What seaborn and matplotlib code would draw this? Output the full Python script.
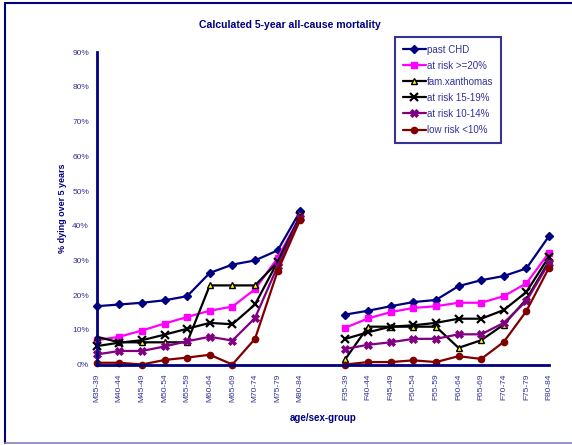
import numpy as np
import pandas as pd
import matplotlib

matplotlib.use('Agg')
import matplotlib.pyplot as plt
import seaborn as sns
from matplotlib.lines import Line2D
from matplotlib.ticker import FuncFormatter

sns.set_style('white')
plt.rcParams['font.family'] = ['Liberation Sans', 'DejaVu Sans']

# ---------------- data (% dying over 5 years) ----------------
groups_m = ['M35-39', 'M40-44', 'M45-49', 'M50-54', 'M55-59',
            'M60-64', 'M65-69', 'M70-74', 'M75-79', 'M80-84']
groups_f = ['F35-39', 'F40-44', 'F45-49', 'F50-54', 'F55-59',
            'F60-64', 'F65-69', 'F70-74', 'F75-79', 'F80-84']
categories = groups_m + [''] + groups_f

series_names = ['past CHD', 'at risk >=20%', 'fam.xanthomas',
                'at risk 15-19%', 'at risk 10-14%', 'low risk <10%']

past_chd_m = [16.8, 17.3, 17.8, 18.5, 19.7, 26.4, 28.8, 30.0, 32.9, 44.2]
past_chd_f = [14.4, 15.5, 16.8, 18.0, 18.6, 22.6, 24.3, 25.5, 27.7, 37.0]
risk20_m = [7.0, 8.0, 9.8, 11.8, 13.7, 15.5, 16.7, 21.7, 30.7, 42.8]
risk20_f = [10.6, 13.3, 15.1, 16.3, 16.8, 17.8, 17.8, 19.7, 23.4, 32.2]
xanth_m = [8.0, 6.4, 6.4, 6.4, 6.4, 22.8, 22.8, 22.8, 29.5, 42.5]
xanth_f = [1.6, 10.9, 10.9, 10.9, 10.9, 4.8, 7.0, 11.5, 18.8, 29.8]
risk15_m = [5.3, 6.3, 7.0, 8.6, 10.3, 12.0, 11.6, 17.3, 29.6, 42.8]
risk15_f = [7.4, 9.3, 10.9, 11.3, 12.0, 13.2, 13.2, 15.7, 20.9, 31.1]
risk10_m = [2.9, 3.9, 3.9, 5.2, 6.7, 8.0, 6.9, 13.4, 28.3, 42.3]
risk10_f = [4.5, 5.7, 6.4, 7.4, 7.4, 8.7, 8.7, 12.0, 18.3, 29.3]
low_m = [0.5, 0.5, 0.0, 1.3, 2.0, 2.8, 0.0, 7.4, 26.9, 41.8]
low_f = [0.0, 0.7, 0.7, 1.2, 0.7, 2.4, 1.6, 6.5, 15.4, 27.9]

values_m = [past_chd_m, risk20_m, xanth_m, risk15_m, risk10_m, low_m]
values_f = [past_chd_f, risk20_f, xanth_f, risk15_f, risk10_f, low_f]

# 样式
styles = {
    'past CHD':       dict(color='#000080', marker='D', mfc='#000080', mec='#000080', ms=4.5, mew=1),
    'at risk >=20%':  dict(color='#FF00FF', marker='s', mfc='#FF00FF', mec='#FF00FF', ms=4, mew=1),
    'fam.xanthomas':  dict(color='#000000', marker='^', mfc='#FFFF00', mec='#000000', ms=5, mew=1),
    'at risk 15-19%': dict(color='#000000', marker='x', mfc='#000000', mec='#000000', ms=6, mew=1.6),
    'at risk 10-14%': dict(color='#800080', marker='X', mfc='#800080', mec='#800080', ms=5.5, mew=0.6),
    'low risk <10%':  dict(color='#800000', marker='o', mfc='#800000', mec='#800000', ms=4.5, mew=1),
}

rows = []
for name, vm, vf in zip(series_names, values_m, values_f):
    for g, v in zip(groups_m, vm):
        rows.append((name, 'M', categories.index(g), v))
    for g, v in zip(groups_f, vf):
        rows.append((name, 'F', categories.index(g), v))
df = pd.DataFrame(rows, columns=['series', 'sex', 'pos', 'pct'])

navy = '#000080'
label_col = '#333399'

fig = plt.figure(figsize=(5.72, 4.45), dpi=100)
ax = fig.add_axes([96.7 / 572, 1 - 364.5 / 445, (549 - 96.7) / 572, (364.5 - 52.3) / 445])

for name in series_names:
    st = styles[name]
    for sex in ['M', 'F']:
        sub = df[(df['series'] == name) & (df['sex'] == sex)]
        sns.lineplot(data=sub, x='pos', y='pct', ax=ax, color=st['color'], lw=1.6,
                     marker=st['marker'], markerfacecolor=st['mfc'], markeredgecolor=st['mec'],
                     markersize=st['ms'], markeredgewidth=st['mew'], clip_on=False,
                     estimator=None, sort=False, legend=False, zorder=3)

ax.set_xlim(0, len(categories) - 1)
ax.set_ylim(0, 90)
ax.set_xticks(range(len(categories)))
ax.set_xticklabels(categories, rotation=90, fontsize=6, color=label_col)
ax.set_yticks(np.arange(0, 91, 10))
ax.yaxis.set_major_formatter(FuncFormatter(lambda v, p: f'{v:.0f}%'))
for t in ax.get_yticklabels():
    t.set_fontsize(6)
    t.set_color(label_col)

ax.tick_params(axis='both', direction='inout', length=5, width=1.5, color=navy)
ax.tick_params(axis='y', pad=3)
ax.tick_params(axis='x', pad=4)
for s in ['top', 'right']:
    ax.spines[s].set_visible(False)
for s in ['left', 'bottom']:
    ax.spines[s].set_color(navy)
    ax.spines[s].set_linewidth(2)
    ax.spines[s].set_zorder(4)
ax.grid(False)
ax.set_facecolor('white')

ax.set_xlabel('age/sex-group', fontsize=7, fontweight='bold', color=navy)
ax.set_ylabel('% dying over 5 years', fontsize=6.5, fontweight='bold', color=navy)
ax.xaxis.set_label_coords(0.5, -0.155)
ax.yaxis.set_label_coords(-0.066, 0.5)

fig.text(290 / 572, 1 - 25.5 / 445, 'Calculated 5-year all-cause mortality',
         ha='center', va='center', fontsize=7.6, fontweight='bold', color=navy)

# 图例
handles = []
for name in series_names:
    st = styles[name]
    handles.append(Line2D([0], [0], color=st['color'], lw=1.6, marker=st['marker'],
                          markerfacecolor=st['mfc'], markeredgecolor=st['mec'],
                          markersize=st['ms'], markeredgewidth=st['mew']))
leg = fig.legend(handles, series_names, loc='upper left',
                 bbox_to_anchor=(395 / 572, 1 - 37 / 445), borderaxespad=0,
                 fontsize=7, frameon=True, fancybox=False, handlelength=2.4,
                 handletextpad=0.1, labelspacing=0.62, borderpad=0.8, markerscale=1)
leg.get_frame().set_edgecolor(navy)
leg.get_frame().set_linewidth(1.5)
for t in leg.get_texts():
    t.set_color(label_col)

# 图表外框
fig.add_artist(Line2D([5 / 572, 1.0], [1 - 3.3 / 445, 1 - 3.3 / 445], color=navy, lw=1.5))
fig.add_artist(Line2D([5 / 572, 5 / 572], [1 - 3.3 / 445, 1 - 443 / 445], color=navy, lw=1.5))
fig.add_artist(Line2D([5 / 572, 1.0], [1 - 443 / 445, 1 - 443 / 445], color='#8080c0', lw=1.2))

fig.savefig('out.png', dpi=100, facecolor='white')
plt.close(fig)
